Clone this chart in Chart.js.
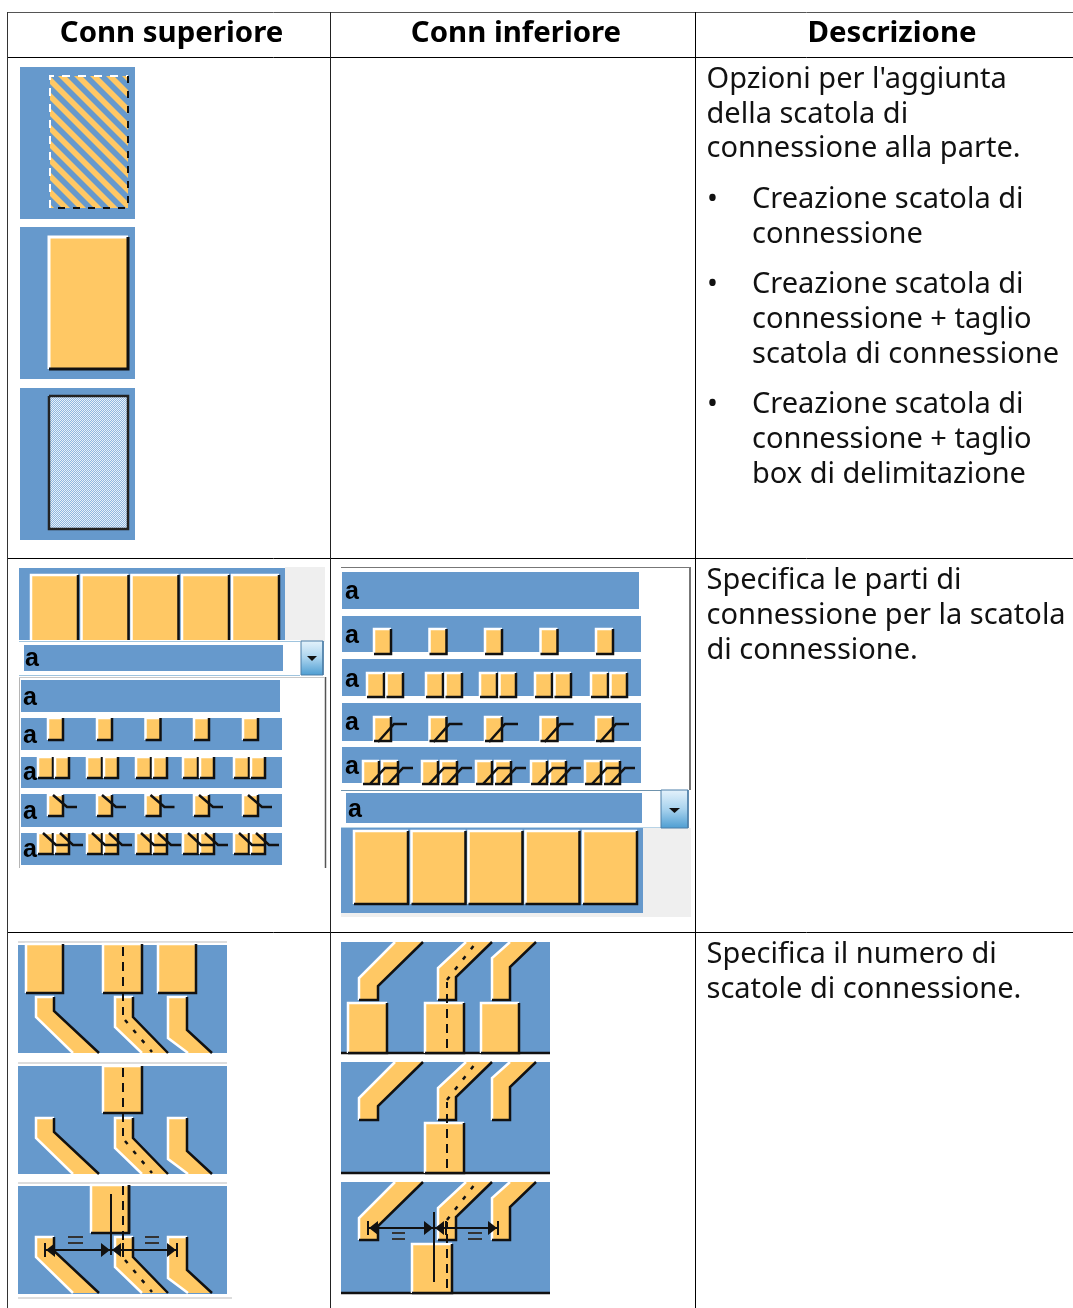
<!DOCTYPE html>
<html lang="it"><head><meta charset="utf-8">
<script src="https://cdn.jsdelivr.net/npm/chart.js@4/dist/chart.umd.min.js"></script>
<style>
html,body{margin:0;padding:0;background:#fff;width:1073px;height:1308px;overflow:hidden}
#wrap{position:relative;width:1073px;height:1308px}
canvas{position:absolute;left:0;top:0}
#icons{filter:blur(.45px)}
.t{position:absolute;font-family:"Noto Sans",sans-serif;font-size:29px;line-height:34.8px;color:#111;white-space:pre}
.h{font-weight:700;font-size:29.4px;color:#000;transform:translateX(-50%)}
.a{position:absolute;font-family:"Liberation Sans",sans-serif;font-weight:700;font-size:25px;line-height:25px;color:#000;transform:translate(-50%,-50%)}
</style></head><body><div id="wrap"><canvas id="rules" width="1073" height="1308"></canvas><canvas id="icons" width="1073" height="1308"></canvas></div>
<script>
// ---- text and readings from the picture
const headers=[["Conn superiore",171.5],["Conn inferiore",516],["Descrizione",892]];
const descLines=[[706.5,60,"Opzioni per l'aggiunta"],[706.5,95,"della scatola di"],[706.5,129,"connessione alla parte."],
[752,180,"Creazione scatola di"],[752,215,"connessione"],[752,265,"Creazione scatola di"],[752,300,"connessione + taglio"],[752,335,"scatola di connessione"],
[752,385,"Creazione scatola di"],[752,420,"connessione + taglio"],[752,455,"box di delimitazione"],
[706.5,561,"Specifica le parti di"],[706.5,596,"connessione per la scatola"],[706.5,631,"di connessione."],
[706.5,935,"Specifica il numero di"],[706.5,970,"scatole di connessione."]];
const bullets=[[707,180],[707,265],[707,385]];
const letterA=[[32,657],[30,696],[30,734],[30,771],[30,810],[30,848],[352,590],[352,634],[352,678],[352,721],[352,765],[355,808]];
// table rules: x0,y0,x1,y1,colour
const rules=[[7,12.5,1073,12.5,"#555"],[7,57.5,1073,57.5,"#000"],[7,558.5,1073,558.5,"#000"],[7,932.5,1073,932.5,"#000"],
[7.5,12,7.5,1308,"#333"],[330.5,12,330.5,1308,"#222"],[695.5,12,695.5,1308,"#000"]];
// icon panels
const bigPanels=[[67,219],[227,379],[388,540]];
const topFiveStarts=[31,81.5,131.5,182,232];
const botFiveStarts=[354,411.5,468.5,525.5,583];
const leftRows=[[680,712,280],[718,750,282],[757,788,282],[794,827,282],[833,865,282]];
const midRows=[[572,609,639],[616,652,641],[659,696,641],[703,741,641],[747,783,641]];
const leftSingles=[48,97,145.5,194,243];
const leftPairs=[38,87,136,183,234];
const midSingles=[374,429.5,485,540.5,596];
const midPairs=[367,426,480,535,591];
const midPairs2=[363,422,476,531,585];
const upperPanelY=[[945,1053],[1066,1174],[1186,1294]];
const lowerPanelY=[[942,1053],[1062,1173],[1182,1293]];
const armsDown=[[[36,997],[54,997],[54,1011],[99,1053],[73,1053],[36,1017]],
[[115,997],[133,997],[133,1017],[168,1053],[142,1053],[115,1027]],
[[168,997],[187,997],[187,1030],[212,1053],[188,1053],[168,1038]]];
const armsUp=[[[359,1000],[359,978],[395,942],[423,942],[378,986],[378,1000]],
[[438,1000],[438,968],[466,942],[492,942],[456,977],[456,1000]],
[[492,1000],[492,958],[510,942],[536,942],[510,967],[510,1000]]];

// ---- colours
const BLUE="#6699cc",ORANGE="#ffc864",WHITE="#ffffff",BLACK="#111111",GREY="#efefef";
const ctx=document.getElementById('icons').getContext('2d');
function tile(w,h,draw){const c=document.createElement('canvas');c.width=w;c.height=h;draw(c.getContext('2d'));return ctx.createPattern(c,'repeat');}
const stripes=tile(16,16,g=>{g.fillStyle=ORANGE;g.fillRect(0,0,16,16);g.fillStyle=BLUE;
 for(const o of[-16,0,16]){g.beginPath();g.moveTo(o,0);g.lineTo(o+8,0);g.lineTo(o+24,16);g.lineTo(o+16,16);g.closePath();g.fill();}});
const dither=tile(2,2,g=>{g.fillStyle="#e8f1fa";g.fillRect(0,0,2,2);g.fillStyle="#8fb6df";g.fillRect(1,0,1,1);g.fillRect(0,1,1,1);});
function btnGrad(a,b){const g=ctx.createLinearGradient(0,a,0,b);g.addColorStop(0,"#e4f2fb");g.addColorStop(.5,"#a9d3ee");g.addColorStop(1,"#4f9ed2");return g;}

// ---- dataset builders
const ds=[];
const pts=a=>a.map(p=>({x:p[0],y:p[1]}));
function fillPoly(a,color){ds.push({data:pts(a.concat([a[0]])),showLine:true,fill:'shape',backgroundColor:color,borderColor:'rgba(0,0,0,0)',borderWidth:0,pointRadius:0,tension:0});}
function line(a,color,w=2,dash,target=ds){target.push({data:pts(a),showLine:true,fill:false,borderColor:color,borderWidth:w,borderDash:dash||[],pointRadius:0,tension:0,borderCapStyle:'butt',borderJoinStyle:'miter'});}
function rect(x0,y0,x1,y1,c){fillPoly([[x0,y0],[x1,y0],[x1,y1],[x0,y1]],c);}
function box(x0,y0,x1,y1,w=2.5){rect(x0,y0,x1,y1,ORANGE);
 line([[x0,y1],[x0,y0],[x1,y0]],WHITE,w);line([[x1,y0],[x1,y1],[x0,y1]],BLACK,w);}
const sh=(a,dy)=>a.map(p=>[p[0],p[1]+dy]);
function armDown(a,dy){const p=sh(a,dy);fillPoly(p,ORANGE);
 line([p[4],p[5],p[0],p[1]],WHITE,2.5);line([p[1],p[2],p[3]],BLACK,2.5);}
function armUp(a,dy){const p=sh(a,dy);fillPoly(p,ORANGE);
 line([p[0],p[1],p[2]],WHITE,2.5);line([p[3],p[4],p[5],p[0]],BLACK,2.5);}
function arrow(tip,base,y){fillPoly([[tip,y],[base,y-7],[base,y+7]],BLACK);}
function eq(x0,x1,y0,y1){line([[x0,y0],[x1,y0]],"#333",2);line([[x0,y1],[x1,y1]],"#333",2);}

// ---- table rules (kept sharp on their own chart)
const ruleDs=[];
rules.forEach(r=>line([[r[0],r[1]],[r[2],r[3]]],r[4],1,null,ruleDs));

// ---- first row icons
bigPanels.forEach(p=>rect(20,p[0],135,p[1],BLUE));
stripes.setTransform(new DOMMatrix().translate(50,76));
rect(50,76,128,208,stripes);
line([[50,208],[50,76],[128,76]],WHITE,2,[8,8]);
line([[128,76],[128,208],[50,208]],BLACK,2,[7,8]);
box(49,237,128,369,3);
rect(49,396,128,529,dither);
line([[49,396],[128,396],[128,529],[49,529],[49,396]],"#222",2.5);

// ---- second row, left
rect(285,567,325,642,GREY);
rect(19,568,285,642,BLUE);
topFiveStarts.forEach(x=>box(x,575,x+47,642,2.5));
rect(19,640,300,676,WHITE);
line([[19,641.5],[300,641.5]],"#9fc4de",1);line([[19,675.5],[300,675.5]],"#9fc4de",1);
rect(24,645,283,671,BLUE);
rect(301,641,323,675,btnGrad(641,675));
line([[301,641],[323,641],[323,675],[301,675],[301,641]],"#4d7fa8",1);
fillPoly([[307,656],[317,656],[312,661]],BLACK);
line([[19.5,677],[19.5,868]],"#b5b5b5",1);
line([[325.5,677],[325.5,868]],"#555",1.5);
line([[19,677.5],[325,677.5]],"#c8c8c8",1);
leftRows.forEach(r=>rect(21,r[0],r[2],r[1],BLUE));
leftSingles.forEach(x=>box(x,718,x+15,740));
leftPairs.forEach(x=>{box(x,757,x+15,778);box(x+17,757,x+31,778);});
leftSingles.forEach(x=>{box(x,795,x+15,816);line([[x+5,795],[x+19,807],[x+29,807]],BLACK,2.5);});
leftPairs.forEach(x=>{box(x,833,x+15,854);box(x+17,833,x+31,854);
 line([[x+5,833],[x+18,845],[x+30,845]],BLACK,2.5);line([[x+22,833],[x+35,845],[x+45,845]],BLACK,2.5);});

// ---- second row, middle
line([[341,567.5],[690,567.5]],"#777",1);
line([[690,567],[690,790]],"#777",2);
midRows.forEach(r=>rect(342,r[0],r[2],r[1],BLUE));
midSingles.forEach(x=>box(x,629,x+17,654));
midPairs.forEach(x=>{box(x,673,x+17,697);box(x+19.5,673,x+36,697);});
midSingles.forEach(x=>{box(x,717,x+17,741);line([[x+4,742],[x+20,724],[x+33,724]],BLACK,2.5);});
midPairs2.forEach(x=>{box(x,761,x+16,784);box(x+19,761,x+35,784);
 line([[x+7,784],[x+22,768],[x+35,768]],BLACK,2.5);line([[x+25,784],[x+40,768],[x+50,768]],BLACK,2.5);});
rect(341,828,691,917,GREY);
rect(341,828,643,913,BLUE);
botFiveStarts.forEach(x=>box(x,831,x+54,904,2.5));
line([[341,790.5],[661,790.5]],"#6f93ad",1);
line([[341,827.5],[661,827.5]],"#b7d3e6",1);
rect(346,793,642,823,BLUE);
rect(661,790,688,828,btnGrad(790,828));
line([[661,790],[688,790],[688,828],[661,828],[661,790]],"#4d7fa8",1);
fillPoly([[669,808],[680,808],[674.5,813]],BLACK);

// ---- third row, left
upperPanelY.forEach(p=>{rect(18,p[0],227,p[1],BLUE);line([[18,p[0]-3],[227,p[0]-3]],"#dddddd",2);});
line([[18,1298],[232,1298]],"#dddddd",2);
[0,121,240].forEach(dy=>armsDown.forEach(a=>armDown(a,dy)));
[26,103,158].forEach((x,i)=>box(x,944,[63,142,196][i],993));
box(103,1066,142,1113);
box(91,1185,129,1233);
[0,121,240].forEach((dy,i)=>{
 line([[123,(i==2?1186:(i==0?947:1068))],[123,1015+dy]],BLACK,2,[9,6]);
 line([[125,1020+dy],[152,1052+dy]],BLACK,2.5,[4,9]);});
line([[129,1185],[129,1233]],BLACK,2.5);
line([[111,1194],[111,1255]],BLACK,2);
line([[45,1250],[177,1250]],BLACK,2);
line([[45,1243],[45,1257]],BLACK,2);line([[123,1243],[123,1257]],BLACK,2);line([[177,1243],[177,1257]],BLACK,2);
arrow(46,55,1250);arrow(110,101,1250);arrow(112,121,1250);arrow(176,167,1250);
eq(68,83,1237,1243);eq(145,159,1237,1243);

// ---- third row, middle
lowerPanelY.forEach(p=>{rect(341,p[0],550,p[1],BLUE);line([[341,p[1]],[550,p[1]]],BLACK,2.5);});
[0,120,240].forEach(dy=>armsUp.forEach(a=>armUp(a,dy)));
box(348,1003,387,1053);box(425,1003,464,1053);box(481,1003,519,1053);
box(425,1123,464,1173);
box(412,1244,452,1293);
[0,120,240].forEach(dy=>{
 line([[447,1048+dy],[447,982+dy]],BLACK,2,[9,6]);
 line([[447,980+dy],[475,944+dy]],BLACK,2.5,[4,9]);});
line([[434,1212],[434,1282]],BLACK,2);
line([[368,1228],[498,1228]],BLACK,2);
line([[368,1221],[368,1235]],BLACK,2);line([[446,1221],[446,1235]],BLACK,2);line([[498,1221],[498,1235]],BLACK,2);
arrow(369,378,1228);arrow(433,424,1228);arrow(435,444,1228);arrow(497,488,1228);
eq(392,405,1233,1239);eq(468,482,1233,1239);

// ---- charts
function sheetChart(id,datasets){return new Chart(document.getElementById(id).getContext('2d'),{type:'scatter',data:{datasets:datasets.reverse()},options:{
 responsive:false,animation:false,events:[],layout:{padding:0},
 plugins:{legend:{display:false},tooltip:{enabled:false}},
 scales:{x:{type:'linear',display:false,min:0,max:1073},y:{type:'linear',display:false,min:0,max:1308,reverse:true}},
 elements:{line:{tension:0}}
}});}
sheetChart('rules',ruleDs);
sheetChart('icons',ds);

// ---- real text
const wrap=document.getElementById('wrap');
function put(cls,text,x,y){const d=document.createElement('div');d.className=cls;d.textContent=text;d.style.left=x+'px';d.style.top=y+'px';wrap.appendChild(d);}
headers.forEach(h=>put('t h',h[0],h[1],14));
descLines.forEach(l=>put('t',l[2],l[0],l[1]));
bullets.forEach(b=>put('t','•',b[0],b[1]));
letterA.forEach(a=>put('a','a',a[0],a[1]));
</script></body></html>
